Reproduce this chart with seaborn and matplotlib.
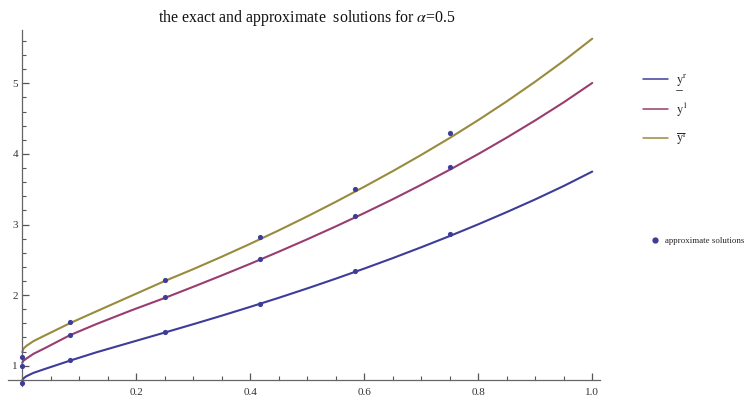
import numpy as np
import pandas as pd
import matplotlib
matplotlib.use('Agg')
import matplotlib.pyplot as plt
from matplotlib.lines import Line2D
from matplotlib.ticker import FixedLocator, MultipleLocator
import seaborn as sns

# curve samples
t_curve = [0, 0.002, 0.007, 0.02, 0.04, 0.083, 0.13, 0.19,
           0.25, 0.30, 0.35, 0.40, 0.45, 0.50, 0.55, 0.60,
           0.65, 0.70, 0.75, 0.80, 0.85, 0.90, 0.95, 1.0]
y_lower = [0.79, 0.82, 0.85, 0.90, 0.955, 1.07, 1.19, 1.33,
           1.470, 1.588, 1.709, 1.834, 1.962, 2.095, 2.233, 2.376,
           2.524, 2.678, 2.837, 3.003, 3.176, 3.356, 3.546, 3.750]
y_exact = [1.04, 1.07, 1.10, 1.17, 1.25, 1.43, 1.59, 1.78,
           1.960, 2.118, 2.279, 2.444, 2.615, 2.791, 2.973, 3.162,
           3.358, 3.563, 3.776, 3.998, 4.231, 4.475, 4.731, 5.005]
y_upper = [1.19, 1.24, 1.28, 1.35, 1.43, 1.60, 1.77, 1.985,
           2.200, 2.368, 2.544, 2.727, 2.917, 3.115, 3.321, 3.535,
           3.756, 3.986, 4.226, 4.479, 4.744, 5.024, 5.318, 5.632]

# approximate solutions (dots)
t_pts = [0, 0.0833, 0.25, 0.4167, 0.5833, 0.75]
p_lower = [0.75, 1.08, 1.48, 1.88, 2.34, 2.86]
p_exact = [1.00, 1.44, 1.98, 2.51, 3.12, 3.81]
p_upper = [1.12, 1.62, 2.22, 2.83, 3.51, 4.29]

x_ticks = [0.2, 0.4, 0.6, 0.8, 1.0]
y_ticks = [1, 2, 3, 4, 5]

c_lower = (0.24, 0.24, 0.60)
c_exact = (0.60, 0.24, 0.4428)
c_upper = (0.60, 0.547, 0.24)
c_dot = (0.24, 0.24, 0.60)

labels = [r'$\mathrm{y}^{\mathrm{r}}$', r'$\mathrm{y}^{1}$', r'$\overline{\mathrm{y}}^{\mathrm{r}}$']

curves = pd.DataFrame({
    't': t_curve * 3,
    'y': y_lower + y_exact + y_upper,
    'series': ['lower'] * len(t_curve) + ['exact'] * len(t_curve) + ['upper'] * len(t_curve),
})
dots = pd.DataFrame({
    't': t_pts * 3,
    'y': p_lower + p_exact + p_upper,
})

sns.set_style('white')
plt.rcParams['font.family'] = ['Liberation Serif', 'DejaVu Serif']
plt.rcParams['mathtext.fontset'] = 'stix'

fig = plt.figure(figsize=(7.44, 3.96), dpi=100)
ax = fig.add_axes([8 / 744, 10.5 / 396, 592 / 744, 355.5 / 396])

sns.lineplot(data=curves, x='t', y='y', hue='series', sort=True, estimator=None,
             palette={'lower': c_lower, 'exact': c_exact, 'upper': c_upper},
             linewidth=1.5, legend=False, ax=ax)
sns.scatterplot(data=dots, x='t', y='y', color=c_dot, s=14, linewidth=0,
                legend=False, ax=ax, zorder=5, clip_on=False)

ax.set_xlim(-0.025, 1.0136)
ax.set_ylim(0.72, 5.755)
ax.set_xlabel('')
ax.set_ylabel('')

for s in ['top', 'right']:
    ax.spines[s].set_visible(False)
ax.spines['left'].set_position(('data', 0))
ax.spines['bottom'].set_position(('data', 0.8))
for s in ['left', 'bottom']:
    ax.spines[s].set_color('#666666')
    ax.spines[s].set_linewidth(0.9)

ax.xaxis.set_major_locator(FixedLocator(x_ticks))
ax.xaxis.set_minor_locator(MultipleLocator(0.05))
ax.yaxis.set_major_locator(FixedLocator(y_ticks))
ax.yaxis.set_minor_locator(MultipleLocator(0.2))
ax.set_xticklabels(['0.2', '0.4', '0.6', '0.8', '1.0'])
ax.set_yticklabels([str(v) for v in y_ticks])
ax.tick_params(which='both', bottom=True, left=True, direction='in', color='#555555')
ax.tick_params(which='major', length=5, width=0.9, labelsize=8, labelcolor='#333333')
ax.tick_params(which='minor', length=3, width=0.8)
ax.tick_params(axis='x', which='major', pad=6)
ax.tick_params(axis='y', which='major', pad=3)

fig.text(307 / 744, 1 - 18 / 396, r'the exact and approximate  solutions for $\alpha$=0.5',
         ha='center', va='center', fontsize=11.4, color='#111111')

handles = [Line2D([], [], color=c, lw=1.1) for c in [c_lower, c_exact, c_upper]]
leg1 = fig.legend(handles, labels, loc='upper left', bbox_to_anchor=(643 / 744, 1 - 72 / 396),
                  frameon=False, fontsize=9, handlelength=2.0, handletextpad=0.6,
                  labelspacing=1.0, borderaxespad=0, borderpad=0)

dot_handle = Line2D([], [], color=c_dot, marker='o', markersize=3.5, linestyle='none')
fig.legend([dot_handle], ['approximate solutions'], loc='center left',
           bbox_to_anchor=(651 / 744, 1 - 241 / 396), frameon=False, fontsize=6.4,
           handlelength=1.0, handletextpad=0.55, borderaxespad=0, borderpad=0)

# underline under the first legend "y"
fig.canvas.draw()
bb = leg1.get_texts()[0].get_window_extent().transformed(fig.transFigure.inverted())
uy = bb.y0 - 1.5 / 396
fig.add_artist(Line2D([bb.x0 + 0.3 / 744, bb.x0 + 0.6 * bb.width], [uy, uy],
                      color='#333333', lw=0.6, transform=fig.transFigure))

fig.savefig('out.png', dpi=100)
